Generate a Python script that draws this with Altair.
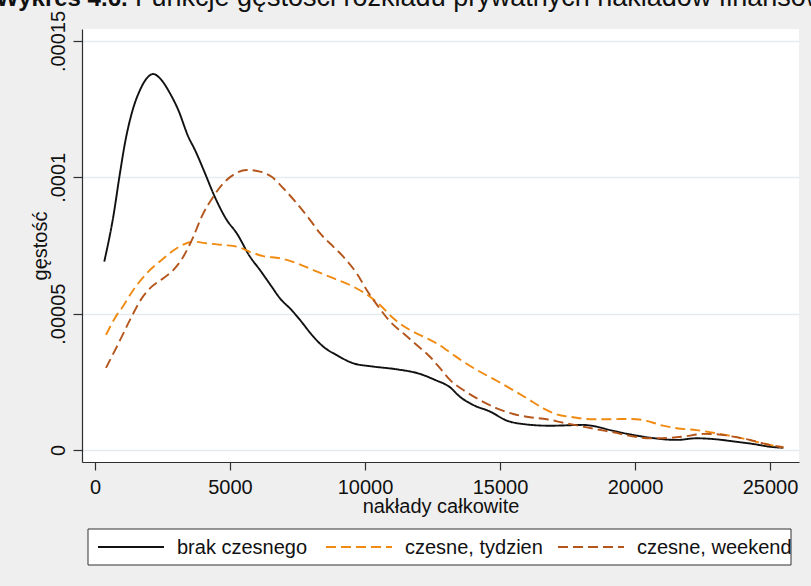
import altair as alt
import pandas as pd

# Kernel density of total private spending, by fee group
brak_x = [344, 678, 926, 1111, 1396, 1667, 1915, 2159, 2407, 2778, 3085, 3456, 3704, 4074,
          4381, 4878, 5248, 5741, 6111, 6544, 6852, 7285, 7593, 8085, 8456, 8952, 9567,
          10307, 11174, 12037, 12593, 13148, 13519, 14011, 14630, 15248, 15863, 16852,
          18085, 18456, 19074, 19937, 20556, 21544, 22285, 23026, 23767, 24381, 25000, 25493]
brak_y = [6.91, 8.56, 10.16, 11.26, 12.47, 13.20, 13.63, 13.79, 13.63, 13.08, 12.47, 11.49,
          11.00, 10.15, 9.41, 8.44, 7.95, 7.09, 6.60, 5.99, 5.56, 5.13, 4.77, 4.16, 3.79,
          3.48, 3.18, 3.06, 2.96, 2.79, 2.57, 2.30, 1.95, 1.65, 1.41, 1.08, 0.95, 0.89,
          0.92, 0.88, 0.73, 0.55, 0.45, 0.37, 0.43, 0.39, 0.30, 0.22, 0.12, 0.08]

tydz_x = [407, 852, 989, 1419, 1915, 2470, 3026, 3641, 4137, 4752, 5248, 5741, 6233, 6852,
          7470, 8085, 8826, 9567, 10185, 10556, 11048, 11667, 12159, 12656, 13148, 13641,
          14259, 14878, 15370, 15989, 16604, 17100, 17715, 18333, 19074, 19815, 20433,
          20926, 21544, 22285, 23026, 23767, 24507, 25122, 25493]
tydz_y = [4.22, 5.02, 5.20, 5.87, 6.48, 6.97, 7.40, 7.64, 7.58, 7.52, 7.46, 7.27, 7.11, 7.03,
          6.85, 6.60, 6.30, 5.99, 5.62, 5.32, 4.83, 4.40, 4.16, 3.91, 3.58, 3.24, 2.87,
          2.54, 2.26, 1.90, 1.53, 1.31, 1.20, 1.13, 1.13, 1.14, 1.07, 0.92, 0.80, 0.73,
          0.61, 0.47, 0.30, 0.16, 0.09]

weekend_x = [407, 900, 1296, 1730, 2100, 2530, 2900, 3270, 3641, 3952, 4381, 4752, 5122,
             5619, 6111, 6544, 6974, 7470, 7963, 8333, 8826, 9196, 9693, 10063, 10493,
             10926, 11419, 11915, 12407, 12778, 13148, 13641, 14259, 14878, 15493, 16111,
             16730, 17344, 17963, 18581, 19196, 19815, 20556, 21174, 21789, 22530, 23026,
             23641, 24259, 24878, 25493]
weekend_y = [3.01, 3.97, 4.77, 5.56, 5.99, 6.30, 6.60, 7.09, 7.82, 8.56, 9.29, 9.78, 10.09,
             10.27, 10.21, 10.02, 9.60, 9.05, 8.44, 7.95, 7.46, 7.09, 6.48, 5.87, 5.26,
             4.71, 4.28, 3.85, 3.42, 3.00, 2.57, 2.20, 1.83, 1.53, 1.32, 1.20, 1.13, 1.00,
             0.88, 0.76, 0.65, 0.52, 0.43, 0.44, 0.49, 0.59, 0.58, 0.49, 0.37, 0.21, 0.10]

groups = ["brak czesnego", "czesne, tydzien", "czesne, weekend"]
colors = ["#111111", "#f08a10", "#b4561c"]
dashes = [[1, 0], [10, 5], [10, 5]]

x_ticks = [0, 5000, 10000, 15000, 20000, 25000]
y_ticks = [0, 0.00005, 0.0001, 0.00015]

rows = []
for g, xs, ys in zip(groups, [brak_x, tydz_x, weekend_x], [brak_y, tydz_y, weekend_y]):
    for i, (xv, yv) in enumerate(zip(xs, ys)):
        rows.append({"grupa": g, "naklady": xv, "gestosc": yv * 1e-5, "i": i})
df = pd.DataFrame(rows)

FONT = "Liberation Sans"
INK = "#111111"
AXIS = "#2e2e2e"

lines = alt.Chart(df).mark_line(strokeWidth=1.9, interpolate="monotone").encode(
    x=alt.X("naklady:Q",
            scale=alt.Scale(domain=[-481, 26074], nice=False, zero=False),
            axis=alt.Axis(values=x_ticks, format="d", grid=False,
                          tickSize=8, tickColor=AXIS, domainColor=AXIS, tickWidth=1.2,
                          domainWidth=1.2, labelFont=FONT, labelFontSize=20,
                          labelColor=INK, labelPadding=7,
                          title="nakłady całkowite", titleFont=FONT, titleFontSize=20,
                          titleFontWeight="normal", titleColor=INK,
                          titleX=358.5, titleY=50, titleAlign="center",
                          titleBaseline="alphabetic")),
    y=alt.Y("gestosc:Q",
            scale=alt.Scale(domain=[-0.0000044, 0.0001544], nice=False, zero=False),
            axis=alt.Axis(values=y_ticks,
                          labelExpr="replace(format(datum.value, '.5~f'), '0.', '.')",
                          grid=True, gridColor="#e3ecef", gridWidth=1.5,
                          tickSize=9, tickColor=AXIS, domainColor=AXIS, tickWidth=1.2,
                          domainWidth=1.2, labelFont=FONT, labelFontSize=20,
                          labelColor=INK, labelAngle=270, labelAlign="center",
                          labelBaseline="alphabetic", labelPadding=9,
                          title="gęstość", titleFont=FONT, titleFontSize=20,
                          titleFontWeight="normal", titleColor=INK, titleAngle=270,
                          titleX=-36, titleY=216.5, titleAlign="center",
                          titleBaseline="alphabetic")),
    color=alt.Color("grupa:N", scale=alt.Scale(domain=groups, range=colors), legend=None),
    strokeDash=alt.StrokeDash("grupa:N", scale=alt.Scale(domain=groups, range=dashes),
                              legend=None),
    detail="grupa:N",
    order="i:Q",
)

# Legend drawn below the plot: a framed white box with one key per group
box = alt.Chart(pd.DataFrame({"k": [0]})).mark_rect(
    fill="white", stroke="#333333", strokeWidth=1,
).encode(x=alt.value(6), x2=alt.value(709), y=alt.value(500), y2=alt.value(536))

key_starts = [16, 244, 476]   # left end of each key line, in plot pixels
key_len = 66
label_gap = 13

legend_layers = [box]
for g, c, d, x0 in zip(groups, colors, dashes, key_starts):
    one = pd.DataFrame({"grupa": [g]})
    legend_layers.append(
        alt.Chart(one).mark_rule(strokeWidth=2, strokeDash=d, color=c).encode(
            x=alt.value(x0), x2=alt.value(x0 + key_len), y=alt.value(518))
    )
    legend_layers.append(
        alt.Chart(one).mark_text(font=FONT, fontSize=20, color=INK, align="left",
                                 baseline="alphabetic").encode(
            text="grupa:N", x=alt.value(x0 + key_len + label_gap), y=alt.value(525))
    )

# Caption line above the plot (partly cut off by the top edge)
cap_bold = alt.Chart(pd.DataFrame({"t": ["Wykres 4.6."]})).mark_text(
    font=FONT, fontSize=24, fontWeight="bold", align="left", baseline="alphabetic",
    color=INK,
).encode(text="t:N", x=alt.value(-86), y=alt.value(-23))

cap_rest = alt.Chart(pd.DataFrame({"t": ["Funkcje gęstości rozkładu prywatnych nakładów finansowych"]})).mark_text(
    font=FONT, fontSize=27, align="left", baseline="alphabetic", color=INK,
).encode(text="t:N", x=alt.value(53), y=alt.value(-23))

chart = alt.layer(lines, *legend_layers, cap_bold, cap_rest).properties(
    width=717, height=433,
    autosize=alt.AutoSizeParams(type="none"),
    padding={"left": 82, "top": 29, "right": 12, "bottom": 124},
).configure(
    background="#efefef",
).configure_view(
    stroke=None, fill="white",
)

chart.save("out.html", embed_options={"renderer": "svg", "actions": False})
